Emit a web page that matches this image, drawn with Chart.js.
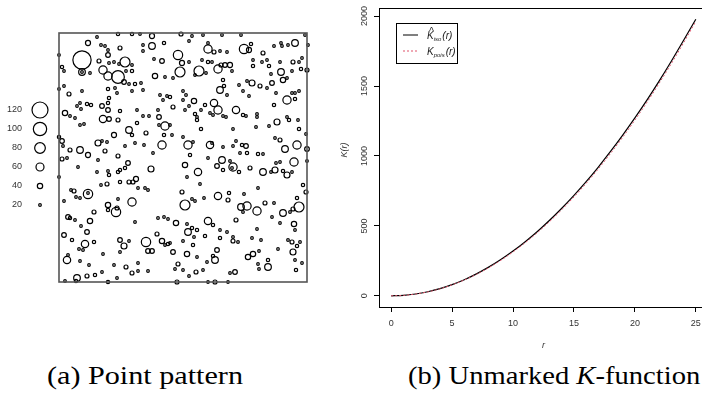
<!DOCTYPE html>
<html>
<head>
<meta charset="utf-8">
<script src="https://cdn.jsdelivr.net/npm/chart.js@4.4.1/dist/chart.umd.min.js"></script>
<style>
  html, body { margin: 0; padding: 0; background: #fff; width: 702px; height: 400px; overflow: hidden; }
  #left { position: absolute; left: 0; top: 0; }
  #right { position: absolute; left: 340px; top: 0; }
  .cap { position: absolute; top: 361px; font-family: "Liberation Serif", serif; font-size: 26px; color: #000; white-space: nowrap; transform-origin: left top; }
</style>
</head>
<body>
<canvas id="left" width="340" height="310"></canvas>
<canvas id="right" width="372" height="355"></canvas>
<div class="cap" style="left:47px; transform: scaleX(1.16)">(a) Point pattern</div>
<div class="cap" style="left:408px; transform: scaleX(1.1)">(b) Unmarked <i>K</i>-function</div>
<script>
// point pattern: [x, y, mark], window 248 x 249
const points = [
  [59,248,25],[73,248,25],[81,248,8],[93,246,38],[122,248,30],[29,239,38],[38,245,8],[42,237,20],
  [46,236,8],[49,232,8],[49,227,35],[61,234,30],[93,236,50],[105,239,25],[84,237,8],[84,231,8],
  [23,222,137],[3,215,25],[5,211,8],[23,210,50],[23,210,20],[31,209,8],[40,221,30],[50,219,20],
  [55,220,20],[60,218,8],[66,220,75],[44,212,62],[49,206,62],[59,205,95],[73,217,8],[73,211,25],
  [67,211,8],[65,200,35],[76,198,25],[82,199,8],[70,198,8],[96,206,40],[95,223,8],[103,221,35],
  [119,227,70],[123,219,38],[121,210,75],[106,205,8],[114,204,8],[0,227,8],[0,193,8],[5,196,8],
  [10,188,30],[23,191,8],[49,193,25],[56,194,20],[58,189,8],[73,191,8],[84,192,8],[101,187,8],
  [108,186,8],[104,182,8],[111,185,25],[114,175,30],[124,182,8],[50,184,25],[49,179,25],[43,176,35],
  [49,172,35],[21,179,8],[18,176,8],[22,173,20],[28,178,25],[32,177,25],[6,169,40],[11,166,20],
  [16,164,8],[21,157,8],[25,158,8],[44,163,55],[50,163,35],[61,171,25],[59,162,30],[78,172,8],
  [84,166,8],[78,159,25],[90,166,8],[99,172,20],[100,165,35],[106,156,62],[111,157,8],[105,147,25],
  [113,147,8],[100,157,8],[70,152,50],[73,147,25],[87,149,30],[55,147,38],[43,141,8],[0,145,25],
  [3,141,35],[4,136,20],[11,132,30],[21,132,50],[29,127,38],[39,139,45],[46,131,30],[48,140,20],
  [66,136,8],[76,139,8],[85,137,8],[103,137,62],[59,126,30],[94,129,8],
  [133,246,8],[144,247,8],[163,247,20],[182,247,8],[246,247,8],[130,241,8],[149,233,62],[149,239,8],
  [155,230,30],[161,231,8],[168,230,8],[185,233,70],[190,232,38],[192,238,25],[204,229,30],[215,236,20],
  [222,239,8],[223,236,8],[229,237,8],[236,239,50],[249,237,8],[130,220,8],[143,222,8],[149,220,25],
  [153,220,8],[140,211,75],[147,209,8],[136,207,8],[159,213,62],[162,217,30],[166,217,35],[171,217,38],
  [173,211,8],[164,202,25],[161,192,50],[165,196,25],[168,187,20],[180,197,8],[188,201,8],[193,199,45],
  [201,196,30],[208,194,8],[213,199,35],[194,222,8],[194,216,25],[203,220,8],[208,222,8],[210,216,25],
  [212,208,8],[221,220,8],[222,210,50],[224,202,40],[228,204,8],[233,211,8],[234,220,30],[240,220,8],
  [243,224,8],[242,213,25],[248,212,30],[184,191,8],[190,186,8],[217,189,8],[228,182,62],[236,183,25],
  [236,189,8],[240,191,20],[233,189,20],[124,191,8],[127,187,20],[135,181,40],[130,176,8],[126,172,8],
  [146,177,25],[142,172,8],[136,168,25],[138,162,25],[138,165,20],[155,179,55],[159,172,62],[154,167,20],
  [151,169,8],[164,166,8],[167,165,8],[177,172,55],[184,167,25],[187,166,8],[198,168,20],[198,165,20],
  [215,177,25],[228,165,20],[230,162,25],[218,160,45],[210,156,8],[197,155,20],[239,162,8],[142,153,25],
  [174,153,8],[240,153,25],[247,148,8],[124,145,8],[129,137,62],[134,140,8],[151,137,55],[153,139,8],
  [164,135,8],[174,136,8],[177,141,8],[183,137,25],[187,136,35],[181,129,20],[188,129,25],[199,128,25],
  [204,128,8],[221,142,30],[216,144,8],[226,133,50],[238,137,62],[248,133,35],[131,127,25],
  [3,123,30],[8,124,20],[39,122,20],[69,119,35],[66,114,25],[61,112,25],[59,110,25],[49,111,20],
  [50,107,25],[38,110,8],[92,113,45],[0,105,8],[19,115,8],[42,97,8],[48,98,30],[61,100,25],
  [70,100,30],[74,100,30],[77,103,38],[79,94,8],[86,94,8],[89,92,20],[12,92,20],[15,91,30],
  [29,88,70],[29,89,8],[21,84,8],[5,81,8],[17,85,8],[59,83,8],[73,80,62],[49,77,40],
  [49,72,25],[57,70,70],[58,74,30],[35,70,30],[9,65,35],[11,64,25],[16,62,20],[31,61,40],
  [22,56,20],[28,50,35],[76,60,20],[99,64,20],[105,65,8],[109,63,8],[117,59,40],[5,47,35],
  [13,42,25],[26,38,55],[20,33,20],[24,32,20],[35,40,25],[61,42,35],[65,36,45],[61,30,20],
  [70,41,8],[87,40,70],[98,48,30],[103,41,40],[106,37,8],[109,38,25],[111,39,20],[89,31,35],
  [93,31,35],[114,30,35],[9,27,20],[8,22,55],[44,28,8],[21,21,8],[30,17,8],[55,17,8],
  [67,15,30],[79,19,8],[89,11,20],[73,9,30],[79,11,8],[119,18,30],[116,13,8],[36,7,25],
  [28,6,30],[18,4,50],[17,1,25],[6,1,8],[43,10,8],[58,4,8],[49,0,25],[118,0,30],
  [126,117,40],[139,110,55],[149,124,8],[163,122,50],[158,116,35],[164,112,25],[171,121,20],[174,115,62],
  [173,114,20],[180,110,25],[191,114,30],[204,110,50],[216,112,45],[212,110,20],[221,120,8],[217,119,8],
  [224,111,25],[228,107,45],[233,110,8],[235,120,62],[248,121,8],[128,105,8],[141,98,8],[123,90,30],
  [126,77,75],[133,83,20],[136,81,8],[145,84,8],[159,86,55],[169,82,30],[170,89,25],[185,88,20],
  [182,75,50],[188,76,62],[184,70,20],[198,71,62],[199,94,8],[206,79,30],[215,79,20],[213,65,8],
  [224,69,50],[231,70,20],[234,73,30],[240,75,75],[238,84,25],[244,97,25],[247,90,30],[235,58,40],
  [236,52,20],[221,59,8],[177,62,30],[149,61,55],[154,57,25],[128,58,20],[133,54,25],[129,50,50],
  [138,52,25],[135,45,20],[124,41,20],[146,46,25],[161,52,8],[168,50,20],[174,45,20],[174,41,30],
  [179,40,20],[193,44,20],[198,53,8],[202,42,8],[161,44,25],[134,37,25],[158,32,35],[128,28,40],
  [138,25,8],[154,26,25],[156,22,50],[148,20,8],[189,25,40],[194,28,40],[200,31,8],[219,33,8],
  [229,42,20],[233,40,30],[238,36,25],[241,40,20],[234,30,45],[236,22,20],[243,19,8],[237,12,25],
  [209,22,25],[209,15,50],[199,18,8],[200,13,8],[176,10,35],[171,9,8],[144,12,8],[137,10,30],
  [130,6,8],[124,12,8],[149,0,12],[156,0,30],[169,0,8]
];
const markLegend = [120, 100, 80, 60, 40, 20];

// K-function
const rValues = [0, 1, 2, 3, 4, 5, 6, 7, 8, 9, 10, 11, 12, 13, 14, 15, 16, 17, 18, 19, 20, 21, 22, 23, 24, 25];
const kIso = [0, 3, 13, 29, 51, 80, 115, 157, 205, 259, 320, 387, 460, 540, 626, 718, 816, 921, 1032, 1149, 1272, 1401, 1537, 1679, 1827, 1978];
const kPois = [0, 3, 13, 28, 50, 79, 113, 154, 201, 254, 314, 380, 452, 531, 616, 707, 804, 908, 1018, 1134, 1257, 1385, 1521, 1662, 1810, 1963];
const xTicks = [0, 5, 10, 15, 20, 25];
const yTicks = [0, 500, 1000, 1500, 2000];

const sans = '"Liberation Sans", Arial, sans-serif';
const markRadius = m => Math.max(1.3, m / 15);

// left: marked point pattern
const boxPlugin = {
  id: 'box',
  afterDraw(chart) {
    const c = chart.ctx, a = chart.chartArea;
    c.save();
    c.strokeStyle = '#555';
    c.lineWidth = 1.6;
    c.strokeRect(a.left, a.top, a.right - a.left, a.bottom - a.top);
    // mark size legend
    c.font = '9px ' + sans;
    c.fillStyle = '#333';
    c.textAlign = 'right';
    c.textBaseline = 'middle';
    c.strokeStyle = '#000';
    c.lineWidth = 1.2;
    markLegend.forEach((m, i) => {
      const y = 110 + i * 19;
      c.fillText(String(m), 22, y);
      c.beginPath();
      c.arc(40, y, markRadius(m), 0, Math.PI * 2);
      c.stroke();
    });
    c.restore();
  }
};

new Chart(document.getElementById('left'), {
  type: 'scatter',
  data: {
    datasets: [{
      data: points.map(p => ({ x: p[0], y: p[1] })),
      pointRadius: c => markRadius(points[c.dataIndex][2]),
      pointBorderColor: '#000',
      pointBackgroundColor: 'rgba(0,0,0,0)',
      pointBorderWidth: 1.2,
      clip: false
    }]
  },
  options: {
    responsive: false,
    animation: false,
    layout: { padding: { left: 59, right: 33, top: 33, bottom: 28 } },
    plugins: { legend: { display: false }, tooltip: { enabled: false } },
    scales: {
      x: { type: 'linear', display: false, min: 0, max: 248 },
      y: { type: 'linear', display: false, min: 0, max: 249 }
    }
  },
  plugins: [boxPlugin]
});

// right: K-function
const kPlugin = {
  id: 'kdeco',
  afterDraw(chart) {
    const c = chart.ctx, a = chart.chartArea, ys = chart.scales.y;
    c.save();
    c.strokeStyle = '#000';
    c.lineWidth = 1;
    c.strokeRect(a.left + 0.5, a.top + 0.5, a.right - a.left, a.bottom - a.top);
    // y tick labels, rotated like R
    c.fillStyle = '#333';
    c.font = '9px ' + sans;
    c.textAlign = 'center';
    c.textBaseline = 'middle';
    yTicks.forEach(v => {
      c.save();
      c.translate(25, ys.getPixelForValue(v));
      c.rotate(-Math.PI / 2);
      c.fillText(String(v), 0, 0);
      c.restore();
    });
    // axis titles
    c.font = 'italic 9px ' + sans;
    c.fillText('r', (a.left + a.right) / 2, 345);
    c.save();
    c.translate(4, 150);
    c.rotate(-Math.PI / 2);
    c.fillText('K(r)', 0, 0);
    c.restore();
    // legend
    c.strokeStyle = '#000';
    c.strokeRect(56.5, 23.5, 61, 40);
    c.beginPath();
    c.moveTo(63, 35); c.lineTo(78, 35);
    c.stroke();
    c.strokeStyle = '#DF536B';
    c.setLineDash([2, 2]);
    c.beginPath();
    c.moveTo(63, 51); c.lineTo(78, 51);
    c.stroke();
    c.setLineDash([]);
    c.fillStyle = '#222';
    c.textAlign = 'left';
    c.textBaseline = 'alphabetic';
    const entry = (x, y, sub, hat) => {
      c.font = 'italic 10px ' + sans;
      c.fillText('K', x, y);
      const kw = c.measureText('K').width;
      if (hat) c.fillText('^', x + 2, y - 4);
      c.font = 'italic 6px ' + sans;
      c.fillText(sub, x + kw, y + 2);
      const sw = c.measureText(sub).width;
      c.font = 'italic 10px ' + sans;
      c.fillText('(r)', x + kw + sw + 1, y);
    };
    entry(87, 39, 'iso', true);
    entry(87, 55, 'pois', false);
    c.restore();
  }
};

new Chart(document.getElementById('right'), {
  type: 'line',
  data: {
    datasets: [
      {
        label: 'K_pois',
        data: rValues.map((r, i) => ({ x: r, y: kPois[i] })),
        borderColor: '#DF536B',
        borderWidth: 1,
        borderDash: [2, 2],
        pointRadius: 0,
        cubicInterpolationMode: 'monotone'
      },
      {
        label: 'K_iso',
        data: rValues.map((r, i) => ({ x: r, y: kIso[i] })),
        borderColor: '#000',
        borderWidth: 1.2,
        pointRadius: 0,
        cubicInterpolationMode: 'monotone'
      }
    ]
  },
  options: {
    responsive: false,
    animation: false,
    layout: { padding: { left: 0, right: 4, top: 8, bottom: 0 } },
    plugins: { legend: { display: false }, tooltip: { enabled: false } },
    scales: {
      x: {
        type: 'linear', min: -1, max: 26,
        afterBuildTicks: s => { s.ticks = xTicks.map(v => ({ value: v })); },
        afterFit: s => { s.height = 48; },
        grid: { drawOnChartArea: false, color: '#000', tickLength: 5 },
        border: { display: false },
        ticks: { color: '#333', font: { family: sans, size: 9 }, padding: 6, maxRotation: 0 }
      },
      y: {
        type: 'linear', min: -80, max: 2058,
        afterBuildTicks: s => { s.ticks = yTicks.map(v => ({ value: v })); },
        afterFit: s => { s.width = 39; },
        grid: { drawOnChartArea: false, color: '#000', tickLength: 5 },
        border: { display: false },
        ticks: { display: false }
      }
    }
  },
  plugins: [kPlugin]
});
</script>
</body>
</html>
